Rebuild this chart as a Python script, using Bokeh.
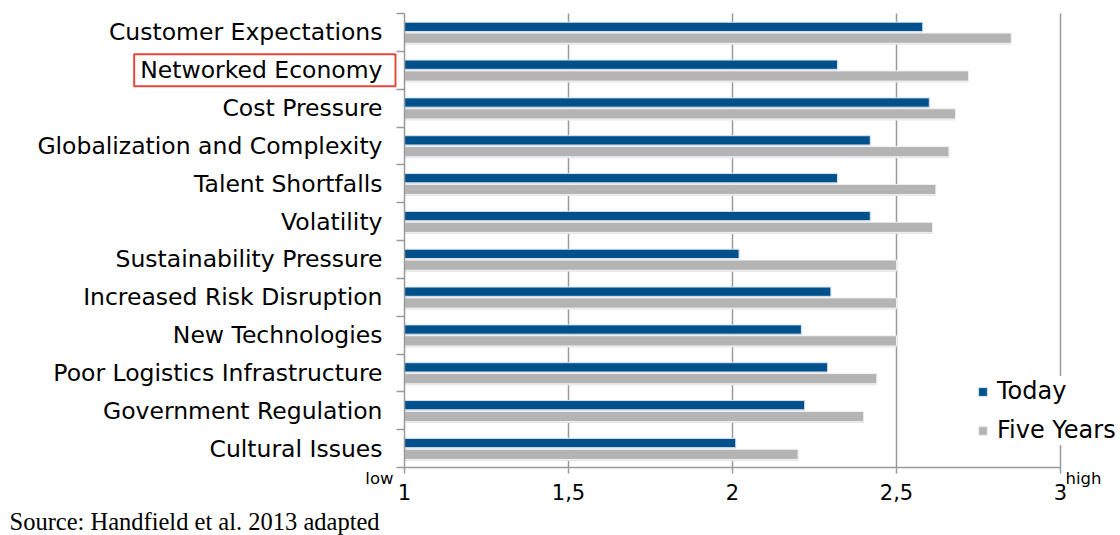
from bokeh.plotting import figure
from bokeh.models import (FixedTicker, Legend, LegendItem, Label, Range1d,
                          ColumnDataSource)
from bokeh.transform import dodge
from bokeh.embed import file_html
from bokeh.resources import INLINE

categories = ["Customer Expectations", "Networked Economy", "Cost Pressure",
              "Globalization and Complexity", "Talent Shortfalls", "Volatility",
              "Sustainability Pressure", "Increased Risk Disruption",
              "New Technologies", "Poor Logistics Infrastructure",
              "Government Regulation", "Cultural Issues"]
today = [2.58, 2.32, 2.60, 2.42, 2.32, 2.42, 2.02, 2.30, 2.21, 2.29, 2.22, 2.01]
five_years = [2.85, 2.72, 2.68, 2.66, 2.62, 2.61, 2.50, 2.50, 2.50, 2.44, 2.40, 2.20]
x_ticks = [1, 1.5, 2, 2.5, 3]
x_tick_labels = ["1", "1,5", "2", "2,5", "3"]
grid_ticks = [1.5, 2, 2.5, 3]
highlighted = "Networked Economy"
source_note = "Source: Handfield et al. 2013 adapted"

FONT = "DejaVu Sans"
BLUE = "#00508C"
GRAY = "#B4B4B4"
AXIS = "#9A9A9A"

n = len(categories)
pos = [n - 1 - i for i in range(n)]
src = ColumnDataSource(dict(cat=categories, pos=pos, today=today, five=five_years))

# layout of the frame (pixels): value 1 at x=404, 3 at x=1060; rows from y=13 to y=467
W, H = 1120, 535
X0, X1 = 404, 1060
Y_TOP, Y_BOT = 13, 467
xmin, xmax = x_ticks[0], x_ticks[-1]
ppx = (X1 - X0) / (xmax - xmin)
ppy = (Y_BOT - Y_TOP) / n
x_start = xmin - X0 / ppx
x_end = xmax + (W - X1) / ppx
y_lo, y_hi = -0.5, n - 0.5
y_start = y_lo - (H - Y_BOT) / ppy
y_end = y_hi + Y_TOP / ppy

p = figure(width=W, height=H, x_range=Range1d(x_start, x_end),
           y_range=Range1d(y_start, y_end), output_backend="svg",
           toolbar_location=None, min_border=0)
p.outline_line_color = None
p.background_fill_color = "white"
p.border_fill_color = "white"
p.xgrid.visible = False
p.ygrid.visible = False

# vertical grid lines behind bars
p.segment(x0=grid_ticks, x1=grid_ticks, y0=y_lo, y1=y_hi, line_color=AXIS,
          line_width=1.5, level="underlay")

# shadows
p.hbar(y=dodge("pos", 0.147 - 0.04), left=xmin, right="today", height=0.245,
       source=src, fill_color="#E4E4E4", line_color=None)
p.hbar(y=dodge("pos", -0.152 - 0.04), left=xmin, right="five", height=0.27,
       source=src, fill_color="#E4E4E4", line_color=None)

r_today = p.hbar(y=dodge("pos", 0.147), left=xmin, right="today", height=0.245,
                 source=src, fill_color=BLUE, line_color="#D6E2EE", line_width=1)
r_five = p.hbar(y=dodge("pos", -0.152), left=xmin, right="five", height=0.27,
                source=src, fill_color=GRAY, line_color="#F2F2F2", line_width=1)

# x axis
xa = p.xaxis[0]
xa.fixed_location = y_lo
xa.bounds = (xmin, xmax)
xa.ticker = FixedTicker(ticks=x_ticks)
xa.major_label_overrides = {t: l for t, l in zip(x_ticks, x_tick_labels)}
xa.axis_line_color = AXIS
xa.axis_line_width = 1.5
xa.major_tick_line_color = AXIS
xa.major_tick_line_width = 1.5
xa.major_tick_in = 0
xa.major_tick_out = 6
xa.minor_tick_line_color = None
xa.major_label_text_font = FONT
xa.major_label_text_font_size = "21px"
xa.major_label_text_color = "black"
xa.major_label_standoff = 10

# y axis
bounds = [i - 0.5 for i in range(n + 1)]
ya = p.yaxis[0]
ya.fixed_location = xmin
ya.bounds = (y_lo, y_hi)
ya.ticker = FixedTicker(ticks=pos, minor_ticks=bounds)
ya.major_label_overrides = {
    pv: ("" if c == highlighted else c) for pv, c in zip(pos, categories)}
ya.axis_line_color = AXIS
ya.axis_line_width = 1.5
ya.major_tick_line_color = None
ya.major_tick_in = 0
ya.major_tick_out = 0
ya.minor_tick_line_color = AXIS
ya.minor_tick_line_width = 1.5
ya.minor_tick_in = 0
ya.minor_tick_out = 8
ya.major_label_text_font = FONT
ya.major_label_text_font_size = "23.5px"
ya.major_label_text_color = "black"
ya.major_label_standoff = 14

# highlighted category label with red box
hi_pos = pos[categories.index(highlighted)]
p.add_layout(Label(x=xmin, y=hi_pos, x_offset=-9, text=highlighted,
                   text_align="right", text_baseline="middle",
                   text_font=FONT, text_font_size="23.5px", text_color="black",
                   border_line_color="#E8473B", border_line_width=2,
                   padding=dict(left=6, right=13, top=2, bottom=2)))

# low / high
p.add_layout(Label(x=xmin, y=y_lo, x_offset=-11, y_offset=-11, text="low",
                   text_align="right", text_baseline="alphabetic",
                   text_font=FONT, text_font_size="16.5px", text_color="black"))
p.add_layout(Label(x=xmax, y=y_lo, x_offset=5, y_offset=-11, text="high",
                   text_align="left", text_baseline="alphabetic",
                   text_font=FONT, text_font_size="16.5px", text_color="black"))

# source
p.add_layout(Label(x=xmin, y=y_lo, x_offset=-395, y_offset=-54, text=source_note,
                   text_align="left", text_baseline="alphabetic",
                   text_font="Liberation Serif", text_font_size="24.5px",
                   text_color="black"))

legend = Legend(items=[LegendItem(label="Today", renderers=[r_today]),
                       LegendItem(label="Five Years", renderers=[r_five])],
                location=(977, 90), orientation="vertical",
                background_fill_color="white", background_fill_alpha=1,
                border_line_color=None, padding=4, margin=0, spacing=9,
                glyph_width=11, glyph_height=11, label_height=30,
                label_standoff=9, label_text_font=FONT,
                label_text_font_size="24px", label_text_color="black")
p.add_layout(legend)

open("out.html", "w").write(file_html(p, INLINE))
